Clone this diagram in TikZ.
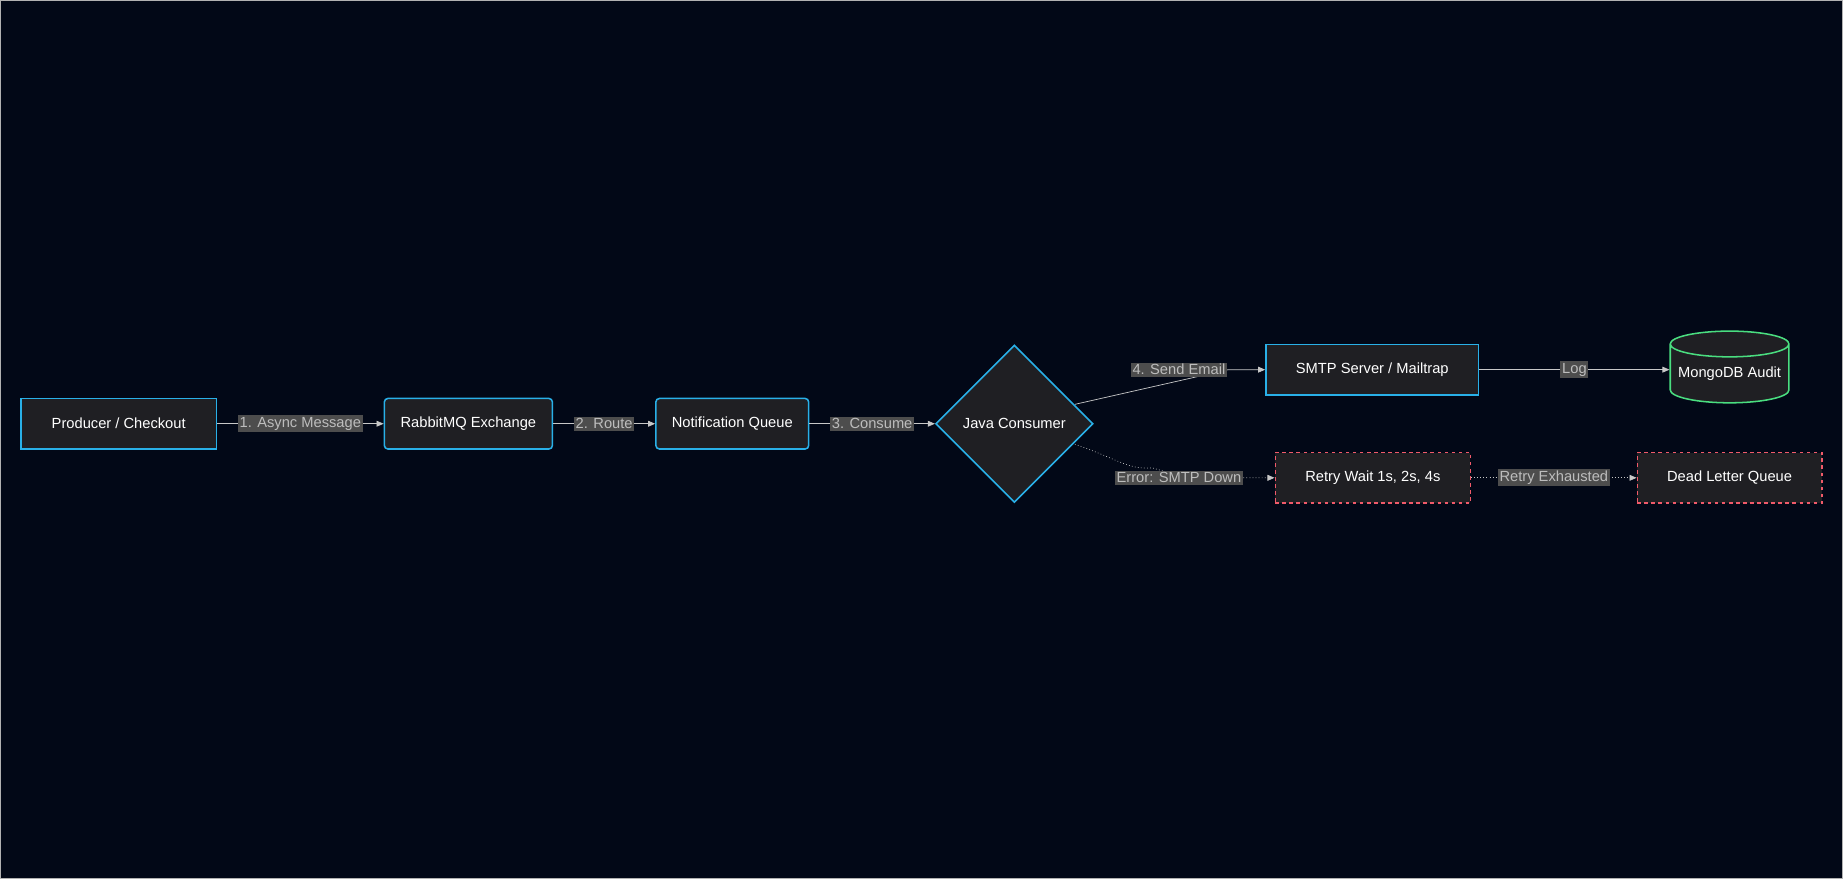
\documentclass[tikz,border=0pt]{standalone}
\usepackage{fontspec}
\setmainfont{Liberation Sans}
\usetikzlibrary{shapes.geometric,arrows.meta}
\definecolor{bg}{HTML}{020817}
\definecolor{nodefill}{HTML}{1F1F23}
\definecolor{blueb}{HTML}{29B0E8}
\definecolor{redb}{HTML}{F05A6A}
\definecolor{greenb}{HTML}{4ADE80}
\definecolor{edge}{HTML}{C8C8C8}
\definecolor{lblbg}{HTML}{4D4D4D}
\definecolor{lbltxt}{HTML}{BDBDBD}
\begin{document}
\begin{tikzpicture}[x=1pt,y=-1pt,
  fnt/.style={font=\fontsize{12.5}{14}\selectfont},
  box/.style={draw=blueb,fill=nodefill,line width=1.3pt,text=white,fnt,minimum height=43pt,inner sep=0pt},
  rbox/.style={box,rounded corners=3pt},
  dbox/.style={box,draw=redb,dashed},
  lbl/.style={fill=lblbg,text=lbltxt,fnt,inner sep=1.5pt},
  ed/.style={draw=edge,line width=0.6pt,-{Triangle[length=6pt,width=5pt]}},
  dot/.style={ed,dotted}]
\fill[bg] (0,0) rectangle (1568,748);
\draw[gray!60,line width=0.8pt] (0.5,0.5) rectangle (1567.5,747.5);
\node[box,minimum width=166pt] (prod) at (101,360.5) {Producer / Checkout};
\node[rbox,minimum width=143pt] (rmq) at (398.5,360.5) {RabbitMQ Exchange};
\node[rbox,minimum width=130pt] (nq) at (623,360.5) {Notification Queue};
\node[diamond,draw=blueb,fill=nodefill,line width=1.3pt,text=white,fnt,minimum width=134pt,minimum height=134pt,inner sep=0pt] (jc) at (863,360.5) {Java Consumer};
\node[box,minimum width=181pt] (smtp) at (1167.5,314.5) {SMTP Server / Mailtrap};
\node[cylinder,shape border rotate=90,aspect=0.25,draw=greenb,fill=nodefill,line width=1.3pt,text=white,fnt,minimum width=101pt,minimum height=61pt,inner sep=0pt] (mongo) at (1471.5,318) {MongoDB Audit};
\node[dbox,minimum width=166pt] (retry) at (1168,406.5) {Retry Wait 1s, 2s, 4s};
\node[dbox,minimum width=157pt] (dlq) at (1471.5,406.5) {Dead Letter Queue};
\coordinate (c1) at (1045,314.5);
\coordinate (c2) at (980,398);
\draw[ed] (prod) -- node[lbl] {1. Async Message} (rmq);
\draw[ed] (rmq) -- node[lbl] {2. Route} (nq);
\draw[ed] (nq) -- node[lbl] {3. Consume} (jc);
\draw[ed] (914.5,344) -- (c1) -- (smtp);
\node[lbl] at (1003,314.5) {4. Send Email};
\draw[dot] (914.5,378) .. controls (950,390) and (960,400) .. (c2) -- (1010,406.5) -- (retry);
\node[lbl] at (1003,406.5) {Error: SMTP Down};
\draw[ed] (smtp) -- node[lbl] {Log} (mongo.west|-smtp);
\draw[dot] (retry) -- node[lbl] {Retry Exhausted} (dlq);
\end{tikzpicture}
\end{document}
